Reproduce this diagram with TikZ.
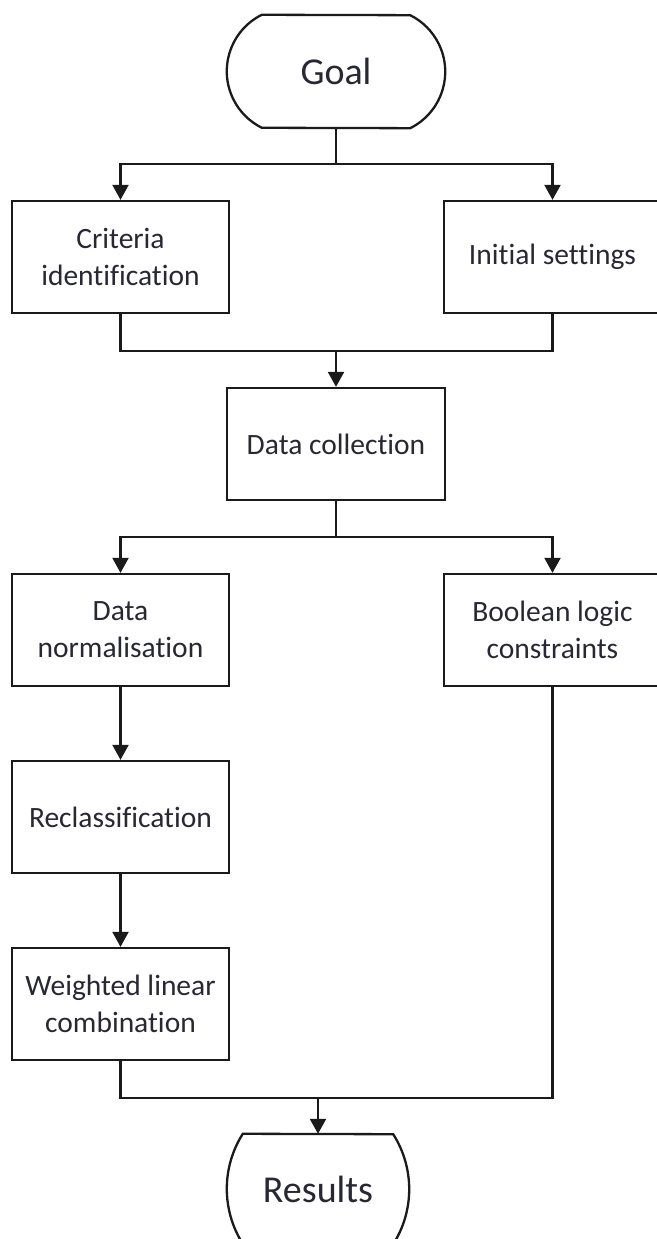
\documentclass[tikz,border=0pt]{standalone}
\usepackage{fontspec}
\setmainfont{Carlito}[Ligatures=NoCommon]
\usetikzlibrary{arrows.meta,calc}

\definecolor{ink}{RGB}{26,26,26}
\definecolor{txt}{RGB}{40,40,52}

\tikzset{
  stepbox/.style={draw=ink, line width=2.3pt, rectangle, minimum width=217pt,
    minimum height=112pt, inner sep=0pt, align=center, text=txt,
    font=\fontsize{29.5}{37}\selectfont},
  termbox/.style={rectangle, inner sep=0pt, text=txt,
    font=\fontsize{38}{44}\selectfont},
  link/.style={draw=ink, line width=2.3pt},
  arr/.style={link, -{Triangle[width=16pt,length=15pt]}},
}

\begin{document}
\begin{tikzpicture}[x=1pt,y=1pt]
  \useasboundingbox (0,0) rectangle (656,1239);
  \fill[white] (0,0) rectangle (656,1239);

  % start and end terminals (outlines drawn below)
  \node[termbox, minimum width=218pt, minimum height=113pt] (goal) at (336,1167.5) {Goal};
  \node[termbox, minimum width=182pt, minimum height=110pt] (results) at (318,50) {Results};

  % process steps
  \node[stepbox] (crit) at (120.5,982) {Criteria\\identification};
  \node[stepbox] (init) at (552.5,982) {Initial settings};
  \node[stepbox, minimum width=218pt] (data) at (336,795) {Data collection};
  \node[stepbox] (norm) at (120.5,609) {Data\\normalisation};
  \node[stepbox] (bool) at (552.5,609) {Boolean logic\\constraints};
  \node[stepbox] (recl) at (120.5,422) {Reclassification};
  \node[stepbox] (wlc) at (120.5,235) {Weighted linear\\combination};

  % terminal outlines: flat top and bottom, circular arcs at the sides
  \draw[link] ($(goal.north west)+(35,0)$)
      arc[start angle=116.44, end angle=243.56, radius=63.1]
      -- ($(goal.south east)+(-35,0)$)
      arc[start angle=-63.56, end angle=63.56, radius=63.1] -- cycle;
  \draw[link] ($(results.north west)+(16,0)$)
      arc[start angle=147.55, end angle=212.45, radius=102.5]
      -- ($(results.south east)+(-16,0)$)
      arc[start angle=-32.45, end angle=32.45, radius=102.5] -- cycle;

  % branch and merge points
  \coordinate (s1) at (336,1075);
  \coordinate (j1) at (336,888);
  \coordinate (s2) at (336,702);
  \coordinate (j2) at (318,141);

  % connectors
  \draw[link] (goal.south) -- (s1);
  \draw[arr] (s1) -| (crit.north);
  \draw[arr] (s1) -| (init.north);

  \draw[link] (crit.south) |- (j1);
  \draw[link] (init.south) |- (j1);
  \draw[arr] (j1) -- (data.north);

  \draw[link] (data.south) -- (s2);
  \draw[arr] (s2) -| (norm.north);
  \draw[arr] (s2) -| (bool.north);

  \draw[arr] (norm.south) -- (recl.north);
  \draw[arr] (recl.south) -- (wlc.north);

  \draw[link] (wlc.south) |- (j2);
  \draw[link] (bool.south) |- (j2);
  \draw[arr] (j2) -- (results.north);
\end{tikzpicture}
\end{document}
